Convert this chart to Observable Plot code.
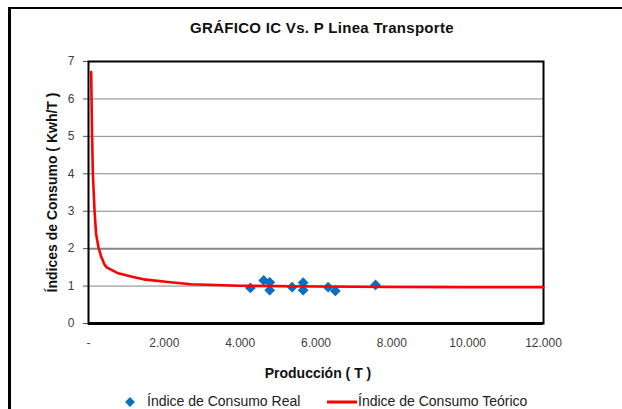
<!DOCTYPE html>
<html>
<head>
<meta charset="utf-8">
<script src="https://cdn.jsdelivr.net/npm/d3@7"></script>
<script src="https://cdn.jsdelivr.net/npm/@observablehq/plot@0.6"></script>
<style>
  html, body { margin: 0; padding: 0; background: #fff; }
  #wrap { position: relative; width: 622px; height: 409px; overflow: hidden; background: #fff; }
  #border { position: absolute; left: 8px; top: 7px; width: 700px; height: 500px;
            border-left: 3px solid #000; border-top: 2px solid #000; z-index: 3; pointer-events: none; }
  #title { position: absolute; left: 0; width: 644px; top: 19px; text-align: center;
           font: bold 15px "Liberation Sans", Arial, sans-serif; letter-spacing: 0.3px; color: #111; z-index: 2; }
  #legend { position: absolute; top: 393px; left: 0; width: 622px; height: 18px;
            font: 14px "Liberation Sans", Arial, sans-serif; color: #222; z-index: 2; }
  #legend .item { position: absolute; top: 0; white-space: nowrap; }
  #legend svg { position: absolute; }
  #chart { position: absolute; left: 0; top: 0; z-index: 1; }
</style>
</head>
<body>
<div id="wrap">
  <div id="chart"></div>
  <div id="title"></div>
  <div id="legend"></div>
  <div id="border"></div>
</div>
<script>
// ---- data ----
const chartTitle = "GRÁFICO IC Vs. P Linea Transporte";
const xTitle = "Producción ( T )";
const yTitle = "Índices de Consumo ( Kwh/T )";
const seriesNames = ["Índice de Consumo Real", "Índice de Consumo Teórico"];

const xTicks = [0, 2000, 4000, 6000, 8000, 10000, 12000];
const yTicks = [0, 1, 2, 3, 4, 5, 6, 7];
const gridLines = [1, 2, 3, 4, 5, 6];

// real points (Producción, Índice)
const prodReal = [4270, 4620, 4780, 4780, 5370, 5660, 5660, 6320, 6510, 7570];
const icReal   = [0.95, 1.15, 1.10, 0.89, 0.97, 1.09, 0.89, 0.97, 0.87, 1.03];

// theoretical curve (Producción, Índice)
const prodTeo = [70, 95, 115, 160, 200, 260, 330, 420, 480, 760, 1150, 1450, 2160, 2700, 4000, 6000, 8000, 10000, 12000];
const icTeo   = [6.72, 5.0, 4.0, 3.0, 2.4, 2.05, 1.8, 1.58, 1.5, 1.35, 1.25, 1.18, 1.1, 1.05, 1.01, 0.99, 0.975, 0.97, 0.97];

// ---- build tables ----
const real = prodReal.map((p, i) => ({p, ic: icReal[i]}));
const teo = prodTeo.map((p, i) => ({p, ic: icTeo[i]}));

const blue = "#0A6FC2";
const red = "#FF0000";

const fmtX = d => d === 0 ? "-" : d3.format(",")(d).replace(/,/g, ".");

const plot = Plot.plot({
  width: 622,
  height: 409,
  marginTop: 61,
  marginRight: 79,
  marginBottom: 86,
  marginLeft: 88,
  style: {background: "transparent", fontFamily: "'Liberation Sans', Arial, sans-serif", overflow: "visible"},
  x: {domain: [0, 12000]},
  y: {domain: [0, 7]},
  marks: [
    Plot.ruleY(gridLines, {stroke: "#868686", strokeWidth: d => d === 2 ? 2 : 1}),
    Plot.axisY({ticks: yTicks, tickSize: 5, tickPadding: 9, tickFormat: d => String(d),
                label: null, fontSize: 12, fill: "#404040", stroke: "#555", letterSpacing: 0.5}),
    Plot.axisX({ticks: xTicks, tickSize: 0, tickPadding: 15, tickFormat: fmtX,
                label: null, fontSize: 12, fill: "#404040", letterSpacing: 0.8}),
    Plot.frame({stroke: "#000", strokeWidth: 2}),
    Plot.ruleY([0], {stroke: "#000", strokeWidth: 3}),
    Plot.dot(real, {x: "p", y: "ic", symbol: "square", rotate: 45, r: 4.3, fill: blue, stroke: "none"}),
    Plot.line(teo, {x: "p", y: "ic", stroke: red, strokeWidth: 2.6, curve: "linear"}),
    Plot.text([xTitle], {frameAnchor: "bottom", dx: 2, dy: 54, text: d => d, fontSize: 14, fontWeight: "bold", fill: "#111"}),
    Plot.text([yTitle], {frameAnchor: "left", dx: -36, rotate: -90, textAnchor: "middle", text: d => d,
                         fontSize: 14, fontWeight: "bold", fill: "#111"})
  ]
});
document.getElementById("chart").appendChild(plot);
document.getElementById("title").textContent = chartTitle;

// legend
const leg = document.getElementById("legend");
leg.innerHTML = `
  <svg style="left:124px;top:3px" width="12" height="12"><rect x="2.5" y="2.5" width="7" height="7" fill="${blue}" transform="rotate(45 6 6)"/></svg>
  <span class="item" style="left:147px">${seriesNames[0]}</span>
  <svg style="left:327px;top:1px" width="30" height="16"><line x1="0" x2="30" y1="8" y2="8" stroke="${red}" stroke-width="3"/></svg>
  <span class="item" style="left:358px">${seriesNames[1]}</span>`;
</script>
</body>
</html>
